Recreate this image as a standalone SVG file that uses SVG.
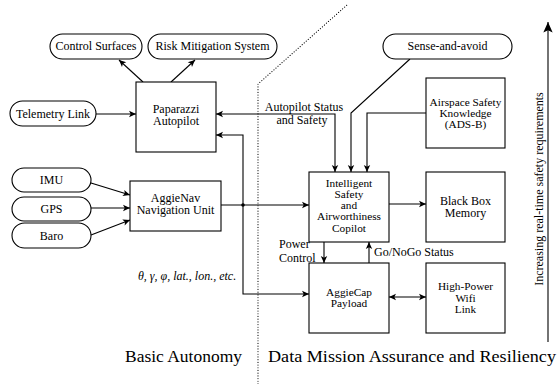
<svg xmlns="http://www.w3.org/2000/svg" width="558" height="384" viewBox="0 0 558 384" font-family="Liberation Serif, Times New Roman, serif">
<style>
text{font-family:'Liberation Serif','Times New Roman',serif;font-size:12px;fill:#000;text-anchor:middle}
.box{fill:#fff;stroke:#000;stroke-width:1.1}
.c{fill:none;stroke:#000;stroke-width:1.1}
.big{font-size:17.5px}
.lft{text-anchor:start}
.ml{font-size:11.3px}
</style>
<defs>
<marker id="ah" markerUnits="userSpaceOnUse" markerWidth="10" markerHeight="10" viewBox="-8 -5 10 10" refX="0" refY="0" orient="auto-start-reverse">
<path d="M-7,-3.2 L0,0 L-7,3.2 L-5.3,0 Z" fill="#000"/>
</marker>
<marker id="bh" markerUnits="userSpaceOnUse" markerWidth="14" markerHeight="14" viewBox="-10 -6 12 12" refX="0" refY="0" orient="auto">
<path d="M-9,-4 L0,0 L-9,4 L-7,0 Z" fill="#000"/>
</marker>
</defs>
<path d="M258,384 L258,84 L347,5" fill="none" stroke="#000" stroke-width="1.1" stroke-dasharray="0.1,2.6" stroke-linecap="round"/>
<g id="connectors">
<path class="c" d="M143,82 L119,60" marker-end="url(#ah)"/>
<path class="c" d="M171,82 L195,60" marker-end="url(#ah)"/>
<path class="c" d="M96,114 L136,114" marker-end="url(#ah)"/>
<path class="c" d="M216,114 L335,114 L335,172" marker-start="url(#ah)" marker-end="url(#ah)"/>
<path class="c" d="M410,59 L351,113 L351,172" marker-end="url(#ah)"/>
<path class="c" d="M426,113 L367,113 L367,172" marker-end="url(#ah)"/>
<path class="c" d="M91,183 L130,195" marker-end="url(#ah)"/>
<path class="c" d="M91,208 L130,208" marker-end="url(#ah)"/>
<path class="c" d="M91,235 L130,220" marker-end="url(#ah)"/>
<path class="c" d="M221,205 L309,205" marker-end="url(#ah)"/>
<path class="c" d="M243,205 L243,135 L216,135" marker-end="url(#ah)"/>
<path class="c" d="M243,205 L243,294 L309,294" marker-end="url(#ah)"/>
<circle cx="243" cy="205" r="1.8" fill="#000"/>
<path class="c" d="M389,204 L426,204" marker-end="url(#ah)"/>
<path class="c" d="M324,242 L324,263" marker-end="url(#ah)"/>
<path class="c" d="M369,263 L369,242" marker-end="url(#ah)"/>
<path class="c" d="M389,297 L426,297" marker-start="url(#ah)" marker-end="url(#ah)"/>
<path class="c" d="M548,342 L548,22" stroke-width="1.4" marker-end="url(#bh)"/>
<text x="304" y="111">Autopilot Status</text>
<text x="302" y="123.5">and Safety</text>
<text class="lft" x="279" y="248">Power</text>
<text class="lft" x="279" y="262">Control</text>
<text class="lft" x="374" y="256">Go/NoGo Status</text>
<text x="187" y="280" style="font-style:italic">θ, γ, φ, lat., lon., etc.</text>
</g>
<g id="control-surfaces"><rect class="box" x="50" y="34" width="92" height="25" rx="12.5"/><text x="96" y="50">Control Surfaces</text></g>
<g id="risk-mitigation"><rect class="box" x="148" y="34" width="129" height="25" rx="12.5"/><text x="212.5" y="50">Risk Mitigation System</text></g>
<g id="telemetry"><rect class="box" x="10" y="101" width="86" height="25" rx="12.5"/><text x="53" y="118">Telemetry Link</text></g>
<g id="paparazzi"><rect class="box" x="136" y="82" width="80" height="70"/><text x="176" y="112.5">Paparazzi</text><text x="176" y="125">Autopilot</text></g>
<g id="imu"><rect class="box" x="12" y="168" width="79" height="24" rx="12"/><text x="51.5" y="184">IMU</text></g>
<g id="gps"><rect class="box" x="12" y="197" width="79" height="24" rx="12"/><text x="51.5" y="213">GPS</text></g>
<g id="baro"><rect class="box" x="12" y="223" width="79" height="25" rx="12.5"/><text x="51.5" y="240">Baro</text></g>
<g id="aggienav"><rect class="box" x="130" y="181" width="91" height="50"/><text x="175.5" y="201.5">AggieNav</text><text x="175.5" y="214">Navigation Unit</text></g>
<g id="sense-and-avoid"><rect class="box" x="383" y="34" width="129" height="25" rx="12.5"/><text x="447.5" y="50">Sense-and-avoid</text></g>
<g id="airspace"><rect class="box" x="426" y="78" width="79" height="70"/><text class="ml" x="465.5" y="105.5">Airspace Safety</text><text class="ml" x="465.5" y="116.5">Knowledge</text><text class="ml" x="465.5" y="127.5">(ADS-B)</text></g>
<g id="copilot"><rect class="box" x="309" y="172" width="80" height="70"/><text class="ml" x="349" y="186.5">Intelligent</text><text class="ml" x="349" y="197.5">Safety</text><text class="ml" x="349" y="208.5">and</text><text class="ml" x="349" y="220">Airworthiness</text><text class="ml" x="349" y="231.5">Copilot</text></g>
<g id="blackbox"><rect class="box" x="426" y="172" width="79" height="70"/><text x="465.5" y="204.5">Black Box</text><text x="465.5" y="217">Memory</text></g>
<g id="aggiecap"><rect class="box" x="309" y="263" width="80" height="70"/><text class="ml" x="349" y="296">AggieCap</text><text class="ml" x="349" y="307">Payload</text></g>
<g id="wifi"><rect class="box" x="426" y="263" width="79" height="70"/><text class="ml" x="465.5" y="290">High-Power</text><text class="ml" x="465.5" y="301.5">Wifi</text><text class="ml" x="465.5" y="313">Link</text></g>
<text class="big" x="183.5" y="362" textLength="117" lengthAdjust="spacingAndGlyphs">Basic Autonomy</text>
<text class="big" x="412" y="362" textLength="288" lengthAdjust="spacingAndGlyphs">Data Mission Assurance and Resiliency</text>
<text x="0" y="0" transform="translate(543,189) rotate(-90)">Increasing real-time safety requirements</text>
</svg>
